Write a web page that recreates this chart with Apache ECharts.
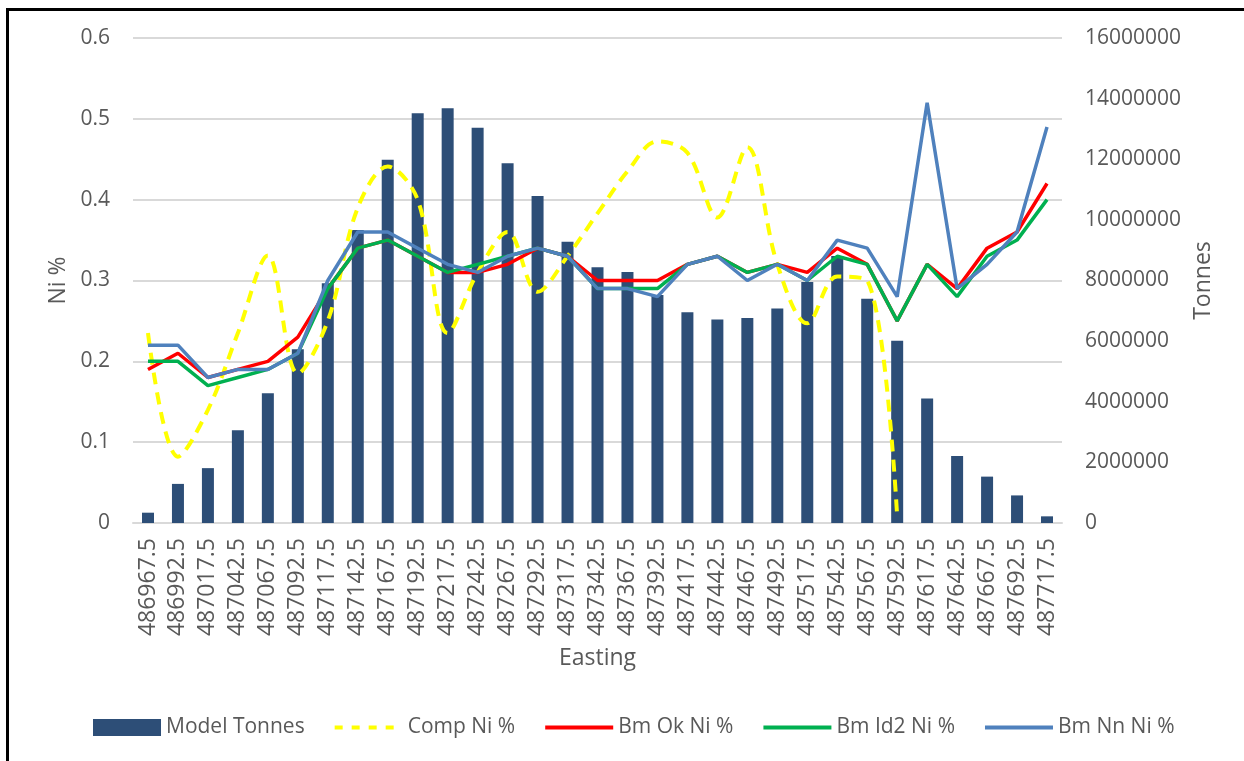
<!DOCTYPE html>
<html>
<head>
<meta charset="utf-8">
<script src="https://cdn.jsdelivr.net/npm/echarts@6/dist/echarts.min.js"></script>
<style>
  html, body { margin: 0; padding: 0; background: #fff; }
  #frame { position: absolute; left: 6px; top: 8px; width: 1300px; height: 800px;
           border-left: 3px solid #000; border-top: 3px solid #000; }
  #chart { position: absolute; left: 0; top: 0; width: 1244px; height: 761px; }
</style>
</head>
<body>
<div id="frame"></div>
<div id="chart"></div>
<script>
// Easting bins (category axis)
const eastings = [
  '486967.5','486992.5','487017.5','487042.5','487067.5','487092.5','487117.5','487142.5',
  '487167.5','487192.5','487217.5','487242.5','487267.5','487292.5','487317.5','487342.5',
  '487367.5','487392.5','487417.5','487442.5','487467.5','487492.5','487517.5','487542.5',
  '487567.5','487592.5','487617.5','487642.5','487667.5','487692.5','487717.5'
];

// Block model tonnes per slice (right axis)
const modelTonnes = [
  340000, 1290000, 1810000, 3060000, 4280000, 5730000, 7910000, 9670000,
  11980000, 13520000, 13680000, 13040000, 11870000, 10790000, 9280000, 8440000,
  8280000, 7520000, 6950000, 6710000, 6760000, 7080000, 7950000, 8810000,
  7400000, 6010000, 4110000, 2210000, 1530000, 910000, 220000
];

// Composite grade (left axis); no composites beyond 487592.5
const compNi = [
  0.235, 0.082, 0.14, 0.235, 0.331, 0.185, 0.25, 0.39,
  0.441, 0.40, 0.235, 0.31, 0.36, 0.286, 0.33, 0.383,
  0.435, 0.472, 0.458, 0.378, 0.465, 0.32, 0.247, 0.305,
  0.30, 0.008, null, null, null, null, null
];

// Estimated block grades (left axis)
const bmOkNi = [
  0.19, 0.21, 0.18, 0.19, 0.20, 0.23, 0.29, 0.34,
  0.35, 0.33, 0.31, 0.31, 0.32, 0.34, 0.33, 0.30,
  0.30, 0.30, 0.32, 0.33, 0.31, 0.32, 0.31, 0.34,
  0.32, 0.25, 0.32, 0.29, 0.34, 0.36, 0.42
];
const bmId2Ni = [
  0.20, 0.20, 0.17, 0.18, 0.19, 0.21, 0.29, 0.34,
  0.35, 0.33, 0.31, 0.32, 0.33, 0.34, 0.33, 0.29,
  0.29, 0.29, 0.32, 0.33, 0.31, 0.32, 0.30, 0.33,
  0.32, 0.25, 0.32, 0.28, 0.33, 0.35, 0.40
];
const bmNnNi = [
  0.22, 0.22, 0.18, 0.19, 0.19, 0.21, 0.30, 0.36,
  0.36, 0.34, 0.32, 0.31, 0.33, 0.34, 0.33, 0.29,
  0.29, 0.28, 0.32, 0.33, 0.30, 0.32, 0.30, 0.35,
  0.34, 0.28, 0.52, 0.29, 0.32, 0.36, 0.49
];

const FONT = 'Open Sans';
const TXT = '#595959';
const GRID = '#D9D9D9';

const COL_BAR = '#2D4E77';
const COL_COMP = '#FFFF00';
const COL_OK = '#FF0000';
const COL_ID2 = '#00B050';
const COL_NN = '#4F81BD';

const chart = echarts.init(document.getElementById('chart'), null, { renderer: 'canvas' });

// legend entry for a line series: line only, no marker in the middle
const lineLegend = (name, color, type) => ({
  name,
  itemStyle: { opacity: 0 },
  lineStyle: { color, width: 4, type: type || 'solid' }
});

chart.setOption({
  animation: false,
  textStyle: { fontFamily: FONT, color: TXT },
  grid: { left: 133, right: 182, top: 38, bottom: 238, containLabel: false },
  legend: {
    bottom: 18,
    left: 88,
    itemWidth: 68,
    itemHeight: 17,
    itemGap: 28,
    textStyle: { fontFamily: FONT, fontSize: 21, color: TXT },
    data: [
      { name: 'Model Tonnes', icon: 'rect' },
      lineLegend('Comp Ni %', COL_COMP, [8, 9]),
      lineLegend('Bm Ok Ni %', COL_OK),
      lineLegend('Bm Id2 Ni %', COL_ID2),
      lineLegend('Bm Nn Ni %', COL_NN)
    ]
  },
  xAxis: {
    type: 'category',
    data: eastings,
    name: 'Easting',
    nameLocation: 'middle',
    nameGap: 124,
    nameTextStyle: { fontFamily: FONT, fontSize: 23, color: TXT },
    axisLine: { lineStyle: { color: GRID, width: 2 } },
    axisTick: { show: false },
    axisLabel: { rotate: 90, fontFamily: FONT, fontSize: 23, color: TXT, margin: 15, interval: 0 }
  },
  yAxis: [
    {
      type: 'value',
      min: 0, max: 0.6, interval: 0.1,
      name: 'Ni %',
      nameLocation: 'middle',
      nameRotate: 90,
      nameGap: 62,
      nameTextStyle: { fontFamily: FONT, fontSize: 23, color: TXT },
      axisLine: { show: false },
      axisTick: { show: false },
      splitLine: { lineStyle: { color: GRID, width: 2 } },
      axisLabel: { fontFamily: FONT, fontSize: 21, color: TXT, margin: 23,
                   formatter: v => (v === 0 ? '0' : String(Math.round(v * 10) / 10)) }
    },
    {
      type: 'value',
      min: 0, max: 16000000, interval: 2000000,
      name: 'Tonnes',
      nameLocation: 'middle',
      nameRotate: 90,
      nameGap: 126,
      nameTextStyle: { fontFamily: FONT, fontSize: 23, color: TXT },
      axisLine: { show: false },
      axisTick: { show: false },
      splitLine: { show: false },
      axisLabel: { fontFamily: FONT, fontSize: 21, color: TXT, margin: 23,
                   formatter: v => String(v) }
    }
  ],
  series: [
    {
      name: 'Model Tonnes',
      type: 'bar',
      yAxisIndex: 1,
      data: modelTonnes,
      barWidth: 12,
      itemStyle: { color: COL_BAR }
    },
    {
      name: 'Comp Ni %',
      type: 'line',
      yAxisIndex: 0,
      data: compNi,
      smooth: 0.35,
      showSymbol: false,
      symbol: 'none',
      connectNulls: false,
      lineStyle: { color: COL_COMP, width: 4, type: [12, 8] },
      itemStyle: { color: COL_COMP }
    },
    {
      name: 'Bm Ok Ni %',
      type: 'line',
      yAxisIndex: 0,
      data: bmOkNi,
      symbol: 'none',
      lineStyle: { color: COL_OK, width: 3.5 },
      itemStyle: { color: COL_OK }
    },
    {
      name: 'Bm Id2 Ni %',
      type: 'line',
      yAxisIndex: 0,
      data: bmId2Ni,
      symbol: 'none',
      lineStyle: { color: COL_ID2, width: 3.5 },
      itemStyle: { color: COL_ID2 }
    },
    {
      name: 'Bm Nn Ni %',
      type: 'line',
      yAxisIndex: 0,
      data: bmNnNi,
      symbol: 'none',
      lineStyle: { color: COL_NN, width: 3.5 },
      itemStyle: { color: COL_NN }
    }
  ]
});
</script>
</body>
</html>
